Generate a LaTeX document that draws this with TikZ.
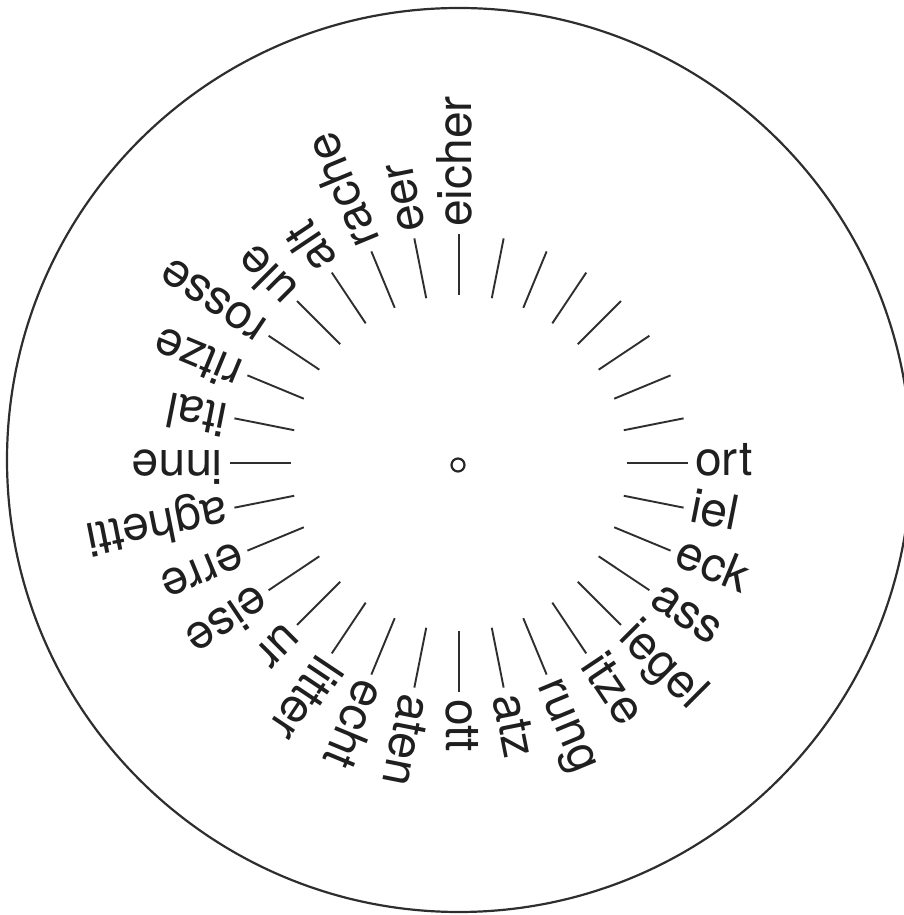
\documentclass[tikz,border=0pt]{standalone}
\usepackage{fontspec}
\setmainfont{TeX Gyre Heros}
\usetikzlibrary{calc}
\begin{document}
\begin{tikzpicture}[x=1pt,y=1pt,
  spoke/.style={line width=1.9pt,draw=black!82},
  rim/.style={line width=2.2pt,draw=black!82},
  hub/.style={line width=2.2pt,draw=black!85},
  lbl/.style={anchor=base west,inner sep=0pt,text=black!88,
    font=\fontsize{48}{48}\selectfont}]
\useasboundingbox (0,0) rectangle (904,915);
\coordinate (C) at (459,452);
\node[rim,circle,minimum size=904pt,inner sep=0pt] (rimc) at (459,455) {};
\node[hub,circle,minimum size=13pt,inner sep=0pt] (hubc) at (458,450) {};
\foreach \k/\t in {0/ort,-1/iel,-2/eck,-3/ass,-4/iegel,-5/itze,-6/rung,-7/atz,
  -8/ott,-9/aten,-10/echt,-11/litter,-12/ur,-13/eise,-14/erre,-15/aghetti,
  -16/inne,15/ital,14/ritze,13/rosse,12/ule,11/alt,10/rache,9/eer,8/eicher,
  1/,2/,3/,4/,5/,6/,7/}{
  \pgfmathsetmacro{\a}{\k*11.25}
  \pgfmathsetmacro{\b}{\a-90}
  \coordinate (i\k) at ($(C)+(\a:168)$);
  \coordinate (o\k) at ($(C)+(\a:229)$);
  \draw[spoke] (i\k) -- (o\k);
  \node[lbl,rotate=\a] (t\k) at ($(C)+(\a:236)+(\b:12.5)$) {\t};
}
\end{tikzpicture}
\end{document}
